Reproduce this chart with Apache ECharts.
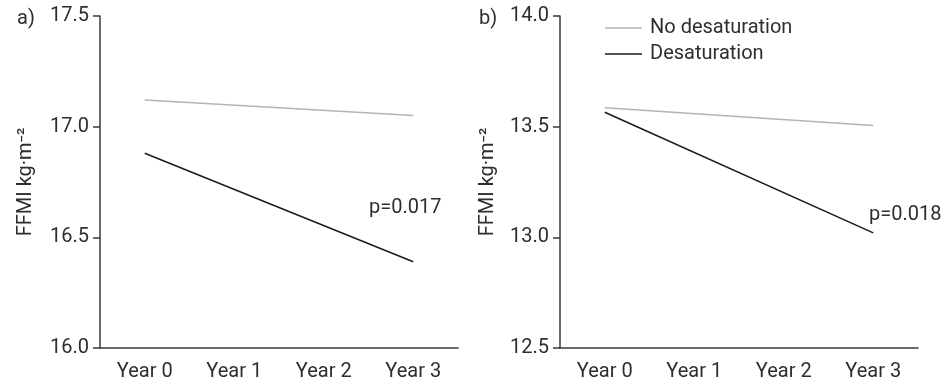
<!DOCTYPE html>
<html>
<head>
<meta charset="utf-8">
<script src="https://cdn.jsdelivr.net/npm/echarts@6/dist/echarts.min.js"></script>
<style>
  html, body { margin: 0; padding: 0; background: #fff; }
  #chart { width: 952px; height: 384px; }
</style>
</head>
<body>
<div id="chart"></div>
<script>
const categories = ["Year 0", "Year 1", "Year 2", "Year 3"];

// panel a (only the end points are plotted, joined by a straight line)
const aNoDesat = [17.12, null, null, 17.05];
const aDesat = [16.88, null, null, 16.39];
// panel b
const bNoDesat = [13.585, null, null, 13.505];
const bDesat = [13.565, null, null, 13.02];

const aRange = [16.0, 17.5];
const bRange = [12.5, 14.0];
const pLabels = ["p=0.017", "p=0.018"];

const font = "Roboto, 'DejaVu Sans', sans-serif";
const axisColor = "#3a3a3a";
const textColor = "#2e2e2e";
const greyLine = "#b4b4b4";
const darkLine = "#1a1a1a";

const chart = echarts.init(document.getElementById("chart"));

const xAxisOf = idx => ({
  type: "category",
  gridIndex: idx,
  data: categories,
  boundaryGap: true,
  axisLine: { lineStyle: { color: axisColor, width: 1.5 } },
  axisTick: { alignWithLabel: true, length: 6, lineStyle: { color: axisColor, width: 1.5 } },
  axisLabel: { color: textColor, fontSize: 20, fontFamily: font, margin: 14 },
  splitLine: { show: false }
});

const yAxisOf = (idx, range, gap) => ({
  type: "value",
  gridIndex: idx,
  min: range[0],
  max: range[1],
  interval: 0.5,
  name: "FFMI kg·m⁻²",
  nameLocation: "middle",
  nameRotate: 90,
  nameGap: gap,
  nameTextStyle: { color: textColor, fontSize: 20, fontFamily: font },
  axisLine: { show: true, lineStyle: { color: axisColor, width: 1.5 } },
  axisTick: { show: true, length: 7, lineStyle: { color: axisColor, width: 1.5 } },
  axisLabel: {
    color: textColor, fontSize: 20, fontFamily: font, margin: 11,
    formatter: v => v.toFixed(1)
  },
  splitLine: { show: false }
});

const lineSeries = (name, data, idx, color) => ({
  name,
  type: "line",
  xAxisIndex: idx,
  yAxisIndex: idx,
  data,
  connectNulls: true,
  symbol: "none",
  silent: true,
  lineStyle: { color, width: 1.5 },
  itemStyle: { color }
});

const option = {
  animation: false,
  backgroundColor: "#fff",
  grid: [
    { left: 100, right: 494, top: 16, bottom: 36 },
    { left: 560, right: 34, top: 16, bottom: 36 }
  ],
  xAxis: [xAxisOf(0), xAxisOf(1)],
  yAxis: [yAxisOf(0, aRange, 64), yAxisOf(1, bRange, 62)],
  legend: {
    left: 600,
    top: 13,
    orient: "vertical",
    icon: "rect",
    itemWidth: 37,
    itemHeight: 1.5,
    itemGap: 6,
    textStyle: { color: textColor, fontSize: 20, fontFamily: font, padding: [0, 0, 0, 3] },
    data: ["No desaturation", "Desaturation"]
  },
  series: [
    lineSeries("No desaturation", aNoDesat, 0, greyLine),
    lineSeries("Desaturation", aDesat, 0, darkLine),
    lineSeries("No desaturation", bNoDesat, 1, greyLine),
    lineSeries("Desaturation", bDesat, 1, darkLine)
  ],
  graphic: [
    { type: "text", left: 17, top: 9, style: { text: "a)", fontSize: 20, fontFamily: font, fill: textColor } },
    { type: "text", left: 479, top: 9, style: { text: "b)", fontSize: 20, fontFamily: font, fill: textColor } },
    { type: "text", left: 369, top: 198, style: { text: pLabels[0], fontSize: 20, fontFamily: font, fill: textColor } },
    { type: "text", left: 869, top: 205, style: { text: pLabels[1], fontSize: 20, fontFamily: font, fill: textColor } }
  ]
};

chart.setOption(option);
</script>
</body>
</html>
